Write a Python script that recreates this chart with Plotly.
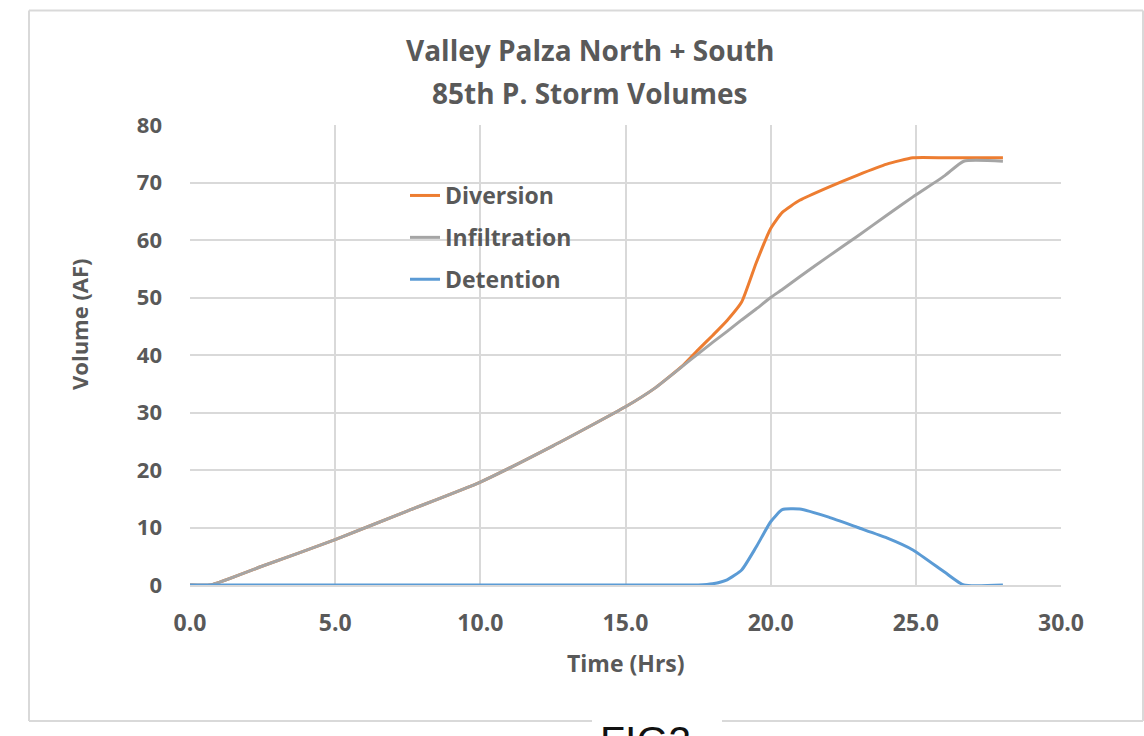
import plotly.graph_objects as go

# ---- data ----
time_hrs = [0, 0.7, 2.5, 5, 7.5, 10, 12.5, 15, 16, 17, 17.5, 18, 18.5, 19, 19.5,
            20, 20.4, 21, 22, 23, 24, 24.9, 26, 26.65, 28]
diversion = [0, 0, 3.3, 7.9, 12.9, 17.9, 24.2, 31.0, 34.2, 38.3, 40.9, 43.4, 46.0, 49.2, 56.0,
             62.0, 64.8, 66.9, 69.2, 71.3, 73.2, 74.3, 74.3, 74.3, 74.3]
infiltration = [0, 0, 3.3, 7.9, 12.9, 17.9, 24.2, 31.0, 34.2, 38.2, 40.2, 42.2, 44.1, 46.1, 48.0,
                50.0, 51.4, 53.6, 57.2, 60.7, 64.3, 67.5, 71.2, 73.7, 73.7]
detention = [0, 0, 0, 0, 0, 0, 0, 0, 0, 0, 0, 0.2, 0.9, 2.6, 6.6,
             11.0, 13.1, 13.2, 11.8, 10.0, 8.2, 6.1, 2.2, 0, 0]

series_names = ["Diversion", "Infiltration", "Detention"]
series_colors = ["#ED7D31", "#A5A5A5", "#5B9BD5"]
x_ticks = [0, 5, 10, 15, 20, 25, 30]
y_ticks = [0, 10, 20, 30, 40, 50, 60, 70, 80]
title_lines = ["Valley Palza North + South", "85th P. Storm Volumes"]
x_title = "Time (Hrs)"
y_title = "Volume (AF)"

FONT = "Open Sans"
TXT = "#595959"

fig = go.Figure()
for name, ys, col in zip(series_names, [diversion, infiltration, detention], series_colors):
    fig.add_trace(go.Scatter(
        x=time_hrs, y=ys, name=name, mode="lines", legendgroup=name,
        line=dict(color=col, width=3, shape="spline", smoothing=0.5),
    ))

W, H = 1144, 736
L, R, T, B = 190, 1061, 125, 585
pw, ph = R - L, B - T


def px_x(p):
    return (p - L) / pw


def px_y(p):
    return (B - p) / ph


fig.update_layout(
    width=W, height=H,
    margin=dict(l=L, r=W - R, t=T, b=H - B, pad=0),
    paper_bgcolor="white", plot_bgcolor="white",
    font=dict(family=FONT, color=TXT, size=20),
    showlegend=True,
    legend=dict(
        x=px_x(405), y=px_y(174), xanchor="left", yanchor="top",
        bgcolor="rgba(0,0,0,0)", tracegroupgap=9,
        font=dict(family=FONT, size=23, color=TXT, weight="bold"),
    ),
    xaxis=dict(
        range=[0, 30], tickvals=x_ticks, tickformat=".1f",
        showgrid=True, gridcolor="#D9D9D9", gridwidth=1.5,
        zeroline=False, showline=True, linecolor="#D9D9D9", linewidth=1.5,
        mirror=False, ticks="", ticklabelstandoff=17,
        tickfont=dict(family=FONT, size=23, color=TXT, weight="bold"),
    ),
    yaxis=dict(
        range=[0, 80], tickvals=y_ticks,
        showgrid=True, gridcolor="#D9D9D9", gridwidth=1.5,
        zeroline=False, showline=False, ticks="", ticklabelstandoff=27,
        tickfont=dict(family=FONT, size=22, color=TXT, weight="bold"),
    ),
)

# axis titles
fig.add_annotation(
    text=x_title, xref="paper", yref="paper", x=px_x(626), y=px_y(663),
    xanchor="center", yanchor="middle", showarrow=False,
    font=dict(family=FONT, size=23, color=TXT, weight="bold"),
)
fig.add_annotation(
    text=y_title, xref="paper", yref="paper", x=px_x(79), y=px_y(324),
    xanchor="center", yanchor="middle", showarrow=False, textangle=-90,
    font=dict(family=FONT, size=22, color=TXT, weight="bold"),
)

# title (two lines)
for line, cy in zip(title_lines, [50, 93]):
    fig.add_annotation(
        text=line, xref="paper", yref="paper", x=px_x(590), y=px_y(cy),
        xanchor="center", yanchor="middle", showarrow=False,
        font=dict(family=FONT, size=28, color=TXT, weight="bold"),
    )

# chart frame (with gap for the figure label)
frame_col = "#D9D9D9"
segments = [
    (29, 10.5, 1143, 10.5),
    (29, 10.5, 29, 721),
    (1143, 10.5, 1143, 721),
    (29, 721, 592, 721),
    (722, 721, 1143, 721),
]
for x0, y0, x1, y1 in segments:
    fig.add_shape(type="line", xref="paper", yref="paper",
                  x0=px_x(x0), y0=px_y(y0), x1=px_x(x1), y1=px_y(y1),
                  line=dict(color=frame_col, width=2), layer="below")

fig.add_annotation(
    text="FIG2", xref="paper", yref="paper", x=px_x(598), y=px_y(716),
    xanchor="left", yanchor="top", showarrow=False,
    font=dict(family="Liberation Sans", size=41, color="#111111"),
)

fig.write_html("out.html")
